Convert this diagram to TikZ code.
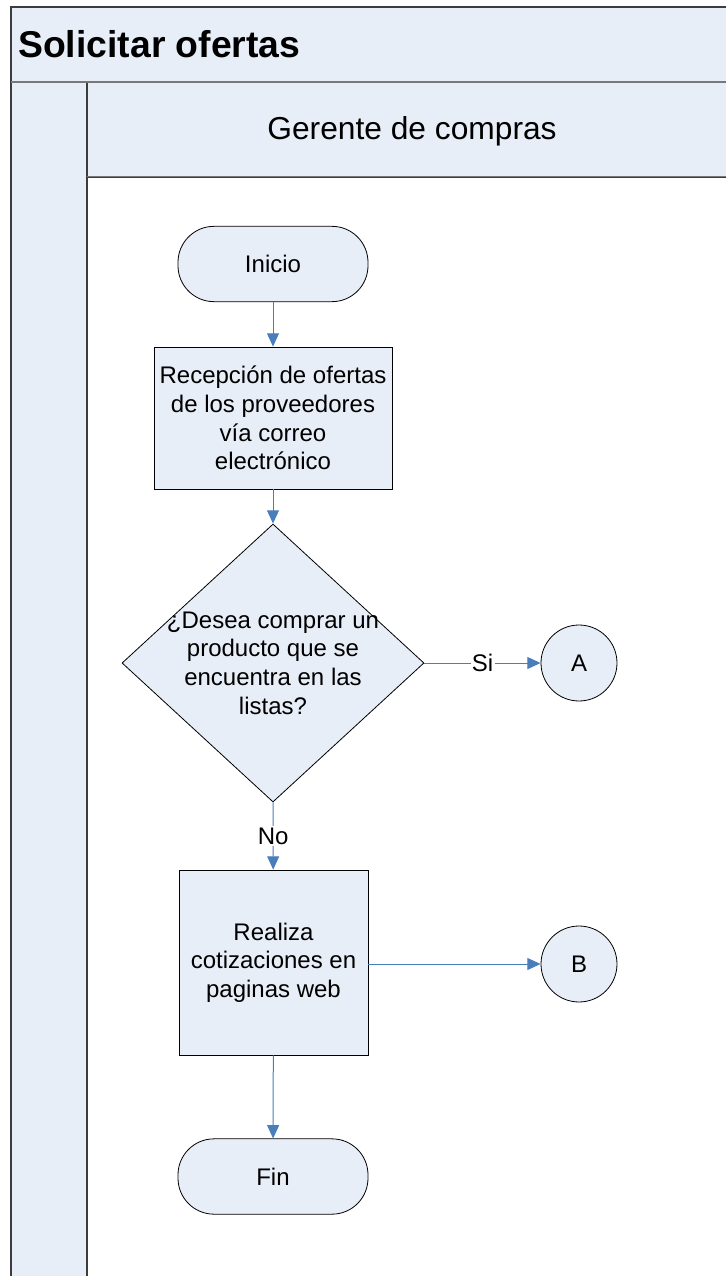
\documentclass[tikz,border=0pt]{standalone}
\usepackage{fontspec}
\setmainfont{Liberation Sans}
\usetikzlibrary{arrows.meta,shapes.geometric}
\definecolor{fillblue}{RGB}{232,238,247}
\definecolor{arrowblue}{RGB}{74,126,187}
\definecolor{framegray}{RGB}{60,60,60}
\definecolor{sepgray}{RGB}{120,120,120}
\begin{document}
\begin{tikzpicture}[x=0.75pt,y=-0.75pt,
  txt/.style={font=\fontsize{18}{21.5}\selectfont, align=center},
  shapeline/.style={draw=black, line width=0.6pt, fill=fillblue},
  terminal/.style={shapeline, rounded corners=27pt, minimum width=142.5pt, minimum height=56.5pt, txt},
  process/.style={shapeline, rectangle, txt},
  decision/.style={shapeline, diamond, minimum width=226.5pt, minimum height=208.5pt, inner sep=0pt},
  connector/.style={shapeline, circle, minimum size=57pt, inner sep=0pt, txt},
  flow/.style={draw=arrowblue, line width=0.75pt, -{Triangle[length=10pt,width=9pt]}},
  flowlabel/.style={txt, fill=white, inner sep=1pt}
]
\useasboundingbox (0,0) rectangle (726,1276);
% pool and lane
\fill[fillblue] (11,7) rectangle (726,82);
\fill[fillblue] (11,82) rectangle (87,1276);
\fill[fillblue] (87,82) rectangle (726,177);
\draw[framegray, line width=0.9pt] (11,1276) -- (11,7) -- (726,7);
\draw[sepgray, line width=2pt] (11,82) -- (726,82);
\draw[framegray, line width=0.9pt] (87,83) -- (87,1276);
\draw[framegray, line width=0.9pt] (87,177) -- (726,177);
\draw[sepgray, line width=0.6pt] (87,176) -- (726,176);
\node[anchor=west, inner sep=0pt, font=\fontsize{28}{33}\selectfont\bfseries] (title) at (18,44) {Solicitar ofertas};
\node[font=\fontsize{23.8}{28}\selectfont] (lane) at (412,131) {Gerente de compras};
% flow nodes
\node[terminal] (inicio) at (273,264) {Inicio};
\node[process, minimum width=178.5pt, minimum height=106.5pt] (recep) at (273,418) {Recepción de ofertas\\de los proveedores\\vía correo\\electrónico};
\node[decision] (dec) at (273,663) {};
\node[txt] (dectext) at (273,663) {¿Desea comprar un\\producto que se\\encuentra en las\\listas?};
\node[connector] (A) at (579,663) {A};
\node[process, minimum width=141.75pt, minimum height=138.75pt] (realiza) at (273.5,962.5) {Realiza\\cotizaciones en\\paginas web};
\node[connector] (B) at (579,964) {B};
\node[terminal] (fin) at (273,1176.5) {Fin};
% connectors
\draw[flow] (inicio) -- (recep);
\draw[flow] (recep) -- (dec);
\draw[flow] (dec.east) -- node[flowlabel] {Si} (A);
\draw[flow] (dec.south) -- node[flowlabel] {No} (realiza);
\draw[flow] (realiza.east |- B) -- (B);
\draw[flow] (realiza) -- (fin);
\end{tikzpicture}
\end{document}
